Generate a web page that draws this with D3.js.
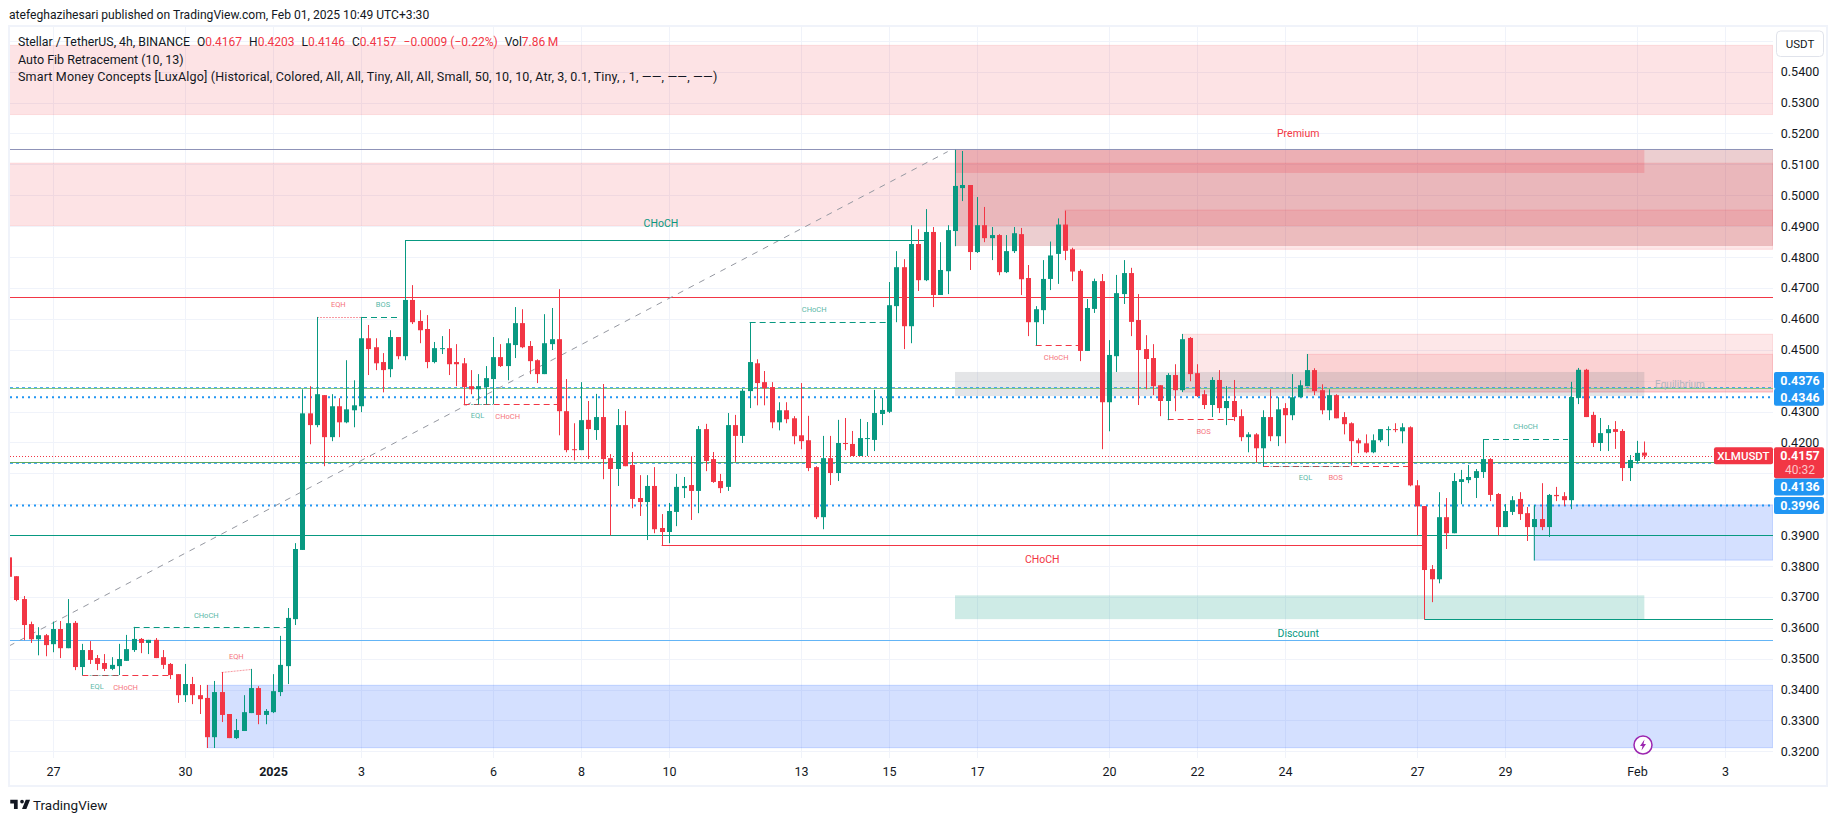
<!DOCTYPE html>
<html>
<head>
<meta charset="utf-8">
<script src="https://cdn.jsdelivr.net/npm/d3@7"></script>
<style>
  body { margin: 0; background: #fff; }
  text { font-family: Roboto, sans-serif; }
</style>
</head>
<body>
<svg id="chart" width="1835" height="821"></svg>
<script>
// 4h candles
const opens = [
  .3828,.3767,.3693,.3612,.3563,.3576,.3547,.3596,.3534,.3616,
  .3473,.3528,.3502,.3486,.3467,.3476,.3493,.3528,.3564,.3551,
  .3561,.3505,.3483,.3450,.3382,.3418,.3382,.3373,.3246,.3392,
  .3321,.3243,.3266,.3324,.3405,.3318,.3327,.3392,.3476,.3628,
  .3852,.4294,.4256,.4353,.4217,.4317,.4265,.4304,.4317,.4537,
  .4508,.4460,.4437,.4541,.4479,.4661,.4593,.4567,.4460,.4502,
  .4505,.4460,.4456,.4382,.4372,.4379,.4405,.4476,.4447,.4515,
  .4586,.4512,.4466,.4421,.4518,.4534,.4301,.4178,.4175,.4273,
  .4240,.4282,.4149,.4114,.4256,.4127,.4020,.4007,.4059,.3923,
  .3910,.3975,.4052,.4062,.4043,.4243,.4146,.4075,.4056,.4256,
  .4221,.4366,.4456,.4395,.4379,.4265,.4304,.4278,.4223,.4207,
  .4120,.3958,.4149,.4101,.4198,.4195,.4156,.4211,.4208,.4292,
  .4299,.4641,.4767,.4576,.4842,.4725,.4881,.4677,.4754,.4884,
  .5023,.5033,.4816,.4903,.4861,.4871,.4751,.4819,.4874,.4732,
  .4589,.4628,.4729,.4810,.4905,.4825,.4755,.4496,.4632,.4722,
  .4330,.4479,.4680,.4748,.4596,.4502,.4473,.4385,.4334,.4418,
  .4369,.4538,.4424,.4356,.4321,.4402,.4311,.4334,.4285,.4217,
  .4226,.4181,.4282,.4220,.4311,.4288,.4346,.4382,.4434,.4369,
  .4304,.4353,.4282,.4262,.4207,.4197,.4168,.4207,.4240,.4243,
  .4236,.4249,.4061,.3994,.3790,.3757,.3958,.3906,.4072,.4078,
  .4085,.4104,.4146,.4033,.3926,.3975,.4017,.3971,.3926,.3952,
  .3926,.4030,.4026,.4013,.4344,.4435,.4289,.4198,.4230,.4243,
  .4237,.4117,.4140,.4167];
const highs = [
  .3828,.3767,.3703,.3620,.3602,.3580,.3620,.3622,.3693,.3622,
  .3548,.3557,.3512,.3515,.3505,.3548,.3577,.3603,.3567,.3561,
  .3567,.3528,.3486,.3450,.3483,.3441,.3415,.3415,.3428,.3457,
  .3321,.3305,.3382,.3467,.3411,.3337,.3450,.3574,.3664,.3874,
  .4372,.4382,.4606,.4353,.4356,.4343,.4466,.4401,.4606,.4580,
  .4537,.4489,.4563,.4541,.4855,.4709,.4628,.4612,.4525,.4544,
  .4567,.4518,.4473,.4434,.4421,.4447,.4541,.4518,.4537,.4638,
  .4631,.4528,.4469,.4615,.4635,.4696,.4405,.4262,.4395,.4334,
  .4357,.4389,.4162,.4308,.4302,.4169,.4094,.4094,.4120,.3968,
  .4004,.4098,.4088,.4156,.4253,.4260,.4169,.4098,.4295,.4289,
  .4373,.4588,.4469,.4431,.4395,.4330,.4330,.4285,.4392,.4286,
  .4123,.4221,.4221,.4273,.4279,.4237,.4276,.4266,.4370,.4344,
  .4719,.4819,.4793,.4903,.4890,.4955,.4897,.4848,.4903,.5147,
  .5143,.5033,.4994,.4962,.4897,.4874,.4871,.4897,.4894,.4774,
  .4641,.4790,.4850,.4925,.4950,.4830,.4760,.4664,.4730,.4745,
  .4531,.4742,.4790,.4765,.4680,.4547,.4518,.4385,.4424,.4453,
  .4551,.4541,.4453,.4369,.4411,.4434,.4382,.4402,.4307,.4233,
  .4230,.4304,.4372,.4346,.4327,.4421,.4401,.4486,.4440,.4388,
  .4372,.4356,.4298,.4265,.4213,.4226,.4226,.4243,.4252,.4262,
  .4262,.4252,.4078,.3994,.3803,.4039,.4020,.4101,.4111,.4127,
  .4114,.4210,.4149,.4036,.4000,.4026,.4039,.3991,.3997,.4068,
  .4033,.4056,.4039,.4396,.4441,.4438,.4299,.4279,.4256,.4269,
  .4243,.4159,.4205,.4203];
const lows = [
  .3760,.3686,.3560,.3551,.3511,.3508,.3521,.3502,.3534,.3463,
  .3446,.3483,.3463,.3460,.3463,.3447,.3493,.3522,.3518,.3515,
  .3502,.3467,.3434,.3357,.3360,.3353,.3321,.3211,.3211,.3295,
  .3243,.3240,.3266,.3324,.3288,.3288,.3324,.3379,.3418,.3609,
  .3852,.4194,.4249,.4123,.4204,.4217,.4262,.4249,.4298,.4418,
  .4434,.4362,.4411,.4469,.4466,.4583,.4521,.4440,.4456,.4486,
  .4418,.4382,.4320,.4356,.4324,.4324,.4324,.4444,.4401,.4473,
  .4505,.4421,.4392,.4421,.4499,.4223,.4168,.4142,.4175,.4146,
  .4208,.4081,.3899,.4059,.4123,.3987,.3962,.3884,.3906,.3867,
  .3874,.3929,.4020,.3949,.3971,.4107,.4069,.4036,.4043,.4137,
  .4198,.4311,.4320,.4320,.4246,.4239,.4262,.4194,.4178,.4107,
  .3952,.3919,.4062,.4075,.4175,.4156,.4156,.4156,.4172,.4256,
  .4295,.4589,.4502,.4521,.4690,.4722,.4638,.4677,.4680,.4835,
  .4981,.4758,.4813,.4848,.4790,.4741,.4748,.4813,.4677,.4544,
  .4514,.4583,.4693,.4713,.4790,.4722,.4463,.4496,.4619,.4178,
  .4236,.4428,.4648,.4544,.4321,.4372,.4353,.4285,.4272,.4301,
  .4363,.4398,.4347,.4308,.4282,.4295,.4256,.4269,.4204,.4168,
  .4136,.4122,.4204,.4188,.4197,.4272,.4346,.4382,.4353,.4291,
  .4272,.4278,.4226,.4125,.4165,.4165,.4165,.4201,.4188,.4233,
  .4197,.4058,.3899,.3627,.3683,.3744,.3855,.3906,.4000,.4068,
  .4020,.4085,.4010,.3899,.3926,.3965,.3949,.3881,.3926,.3916,
  .3894,.4010,.3994,.3984,.4324,.4282,.4185,.4172,.4172,.4179,
  .4075,.4075,.4133,.4146];
const closes = [
  .3765,.3690,.3609,.3563,.3576,.3544,.3596,.3534,.3615,.3473,
  .3528,.3496,.3483,.3467,.3480,.3499,.3531,.3564,.3551,.3561,
  .3502,.3480,.3447,.3382,.3418,.3382,.3369,.3246,.3392,.3318,
  .3243,.3269,.3327,.3405,.3318,.3331,.3395,.3480,.3632,.3855,
  .4294,.4256,.4356,.4217,.4317,.4265,.4307,.4320,.4537,.4502,
  .4456,.4434,.4541,.4479,.4661,.4589,.4563,.4460,.4505,.4505,
  .4453,.4453,.4379,.4372,.4382,.4408,.4476,.4447,.4521,.4586,
  .4508,.4463,.4421,.4521,.4534,.4301,.4175,.4175,.4272,.4243,
  .4282,.4146,.4114,.4256,.4123,.4017,.4007,.4059,.3919,.3910,
  .3978,.4056,.4059,.4043,.4243,.4140,.4072,.4052,.4256,.4221,
  .4367,.4460,.4392,.4375,.4265,.4304,.4275,.4220,.4204,.4117,
  .3958,.4149,.4101,.4198,.4195,.4156,.4214,.4214,.4295,.4305,
  .4644,.4767,.4576,.4842,.4725,.4881,.4677,.4758,.4887,.5030,
  .5033,.4816,.4903,.4861,.4871,.4751,.4819,.4877,.4728,.4589,
  .4631,.4729,.4805,.4905,.4820,.4753,.4496,.4635,.4722,.4330,
  .4483,.4683,.4748,.4590,.4499,.4470,.4382,.4334,.4418,.4369,
  .4534,.4421,.4350,.4321,.4402,.4311,.4334,.4282,.4217,.4226,
  .4181,.4282,.4220,.4307,.4288,.4346,.4385,.4434,.4366,.4304,
  .4353,.4278,.4259,.4204,.4197,.4168,.4207,.4243,.4243,.4240,
  .4249,.4061,.3993,.3787,.3757,.3958,.3906,.4075,.4081,.4088,
  .4107,.4146,.4030,.3926,.3978,.4013,.3968,.3926,.3952,.3926,
  .4030,.4026,.4013,.4347,.4435,.4282,.4198,.4230,.4243,.4234,
  .4117,.4143,.4166,.4157];

// axes
const priceTicks = d3.range(32, 55).map(d => d / 100);
const timeBars = [6, 24, 36, 48, 66, 78, 90, 108, 120, 132, 150, 162, 174, 192, 204, 222, 234];
const timeLabels = ["27", "30", "2025", "3", "6", "8", "10", "13", "15", "17", "20", "22", "24", "27", "29", "Feb", "3"];

// zones: [first bar, last bar ("end" = right edge), top price, bottom price]
const fibZones = [[0, "end", .5485, .5261], [0, "end", .5104, .4902]];
const premiumZones = [[129, "end", .5148, .4837]];
const premiumBlocks = [[129, 223, .5148, .5072]];
const supplyZones = [[144, "end", .4952, .4825], [160, "end", .4550, .4363], [177, "end", .4485, .4363]];
const equilibriumZones = [[129, 223, .4428, .4350]];
const discountZones = [[129, 223, .3705, .3628]];
const demandZones = [[208, "end", .3997, .3819], [27, "end", .3414, .3212]];

// horizontal levels over the whole pane
const levelPrices = [.5148, .4672, .4376, .4136, .3900, .3560];
const levelColors = ["#8f93b8", "#f23645", "#81c784", "#5fa85f", "#089981", "#64b5f6"];
const thickDots = [.4346, .3996];
const thinDots = [.4376, .4136];
const thinDotShift = [-1, 1];
const lastPrice = .4157;

// structure lines: [bar from, bar to, price from, price to]
const solidTeal = [[54, 125, .4855, .4855], [193, "end", .3627, .3627], [208, 208, .3996, .3820]];
const solidRed = [[89, 193, .3867, .3867]];
const dashedTeal = [[17, 38, .3603, .3603], [48, 53, .4606, .4606], [101, 120, .4589, .4589], [201, 212.6, .4210, .4210]];
const dashedRed = [[10, 22, .3446, .3446], [62, 75, .4323, .4323], [140, 146, .4514, .4514], [158, 167, .4275, .4275], [171, 191, .4123, .4123]];
const dottedTeal = [[11, 15, .3446, .3446], [63, 66, .4323, .4323], [172, 183, .4123, .4125]];
const dottedRed = [[29, 33, .3457, .3467], [42, 48, .4606, .4606]];

// fib trend line
const fibBars = [0, 128];
const fibPrices = [.3541, .5141];

// chart labels: [text, bar, price]
const bigLabelsTeal = [["CHoCH", 88.9, .4910], ["Discount", 175.8, .3583]];
const bigLabelsRed = [["CHoCH", 140.9, .3821], ["Premium", 175.8, .5200]];
const smallLabelsTeal = [["CHoCH", 26.9, .3640], ["EQL", 12, .3409], ["BOS", 51, .4647], ["EQL", 63.9, .4286],
  ["CHoCH", 109.8, .4631], ["EQL", 176.8, .4086], ["CHoCH", 206.8, .4252]];
const smallLabelsRed = [["CHoCH", 15.9, .3407], ["EQH", 31, .3508], ["EQH", 44.9, .4647], ["CHoCH", 68, .4284],
  ["CHoCH", 142.8, .4474], ["BOS", 162.9, .4236], ["BOS", 180.9, .4086]];

// tags on the price axis
const blueTags = [.4376, .4346, .4136, .3996];
const blueTagShift = [-7.4, 0, 24.8, 0];

const legendOhlc = [["O", "0.4167"], ["H", "0.4203"], ["L", "0.4146"], ["C", "0.4157"]];

const up = "#089981", down = "#f23645", ink = "#131722";

const svg = d3.select("#chart");
const pane = {left: 10, right: 1773, top: 27, bottom: 758};

const x = d3.scaleLinear().domain([0, 234]).range([9, 1725]);
const y = d3.scaleLinear().domain([.32, .54]).range([751.4, 71.6]);
const px = v => v === "end" ? pane.right : x(v);
const snap = v => Math.round(v) + .5;

svg.append("rect")
  .attr("x", 9).attr("y", 26).attr("width", 1818).attr("height", 760)
  .attr("fill", "#fff").attr("stroke", "#f0f3fa").attr("stroke-width", 2);

svg.append("clipPath").attr("id", "pane").append("rect")
  .attr("x", pane.left).attr("y", pane.top)
  .attr("width", pane.right - pane.left).attr("height", pane.bottom - pane.top);

// grid
const grid = svg.append("g").attr("stroke", "#f0f3fa").attr("stroke-width", 1);
grid.selectAll(".h").data([.55, ...priceTicks]).join("line").attr("class", "h")
  .attr("x1", pane.left).attr("x2", pane.right)
  .attr("y1", d => snap(y(d))).attr("y2", d => snap(y(d)));
grid.selectAll(".v").data(timeBars).join("line").attr("class", "v")
  .attr("x1", d => snap(x(d))).attr("x2", d => snap(x(d)))
  .attr("y1", pane.top).attr("y2", pane.bottom);

const plot = svg.append("g").attr("clip-path", "url(#pane)");

function drawZones(zones, fill, stroke) {
  plot.append("g").selectAll("rect").data(zones).join("rect")
    .attr("x", d => px(d[0]))
    .attr("width", d => px(d[1]) - px(d[0]))
    .attr("y", d => y(d[2]))
    .attr("height", d => y(d[3]) - y(d[2]))
    .attr("fill", fill)
    .attr("stroke", stroke);
}

drawZones(fibZones, "rgba(242,54,69,0.14)", "rgba(242,54,69,0.12)");
drawZones(premiumZones, "rgba(160,10,20,0.2)", "rgba(160,10,20,0.1)");
drawZones(premiumBlocks, "rgba(242,54,69,0.2)", "none");
drawZones(supplyZones, "rgba(242,54,69,0.12)", "rgba(242,54,69,0.15)");
drawZones(equilibriumZones, "rgba(120,123,134,0.2)", "none");
drawZones(discountZones, "rgba(8,153,129,0.2)", "none");
drawZones(demandZones, "rgba(41,98,255,0.2)", "rgba(41,98,255,0.22)");

// dotted levels go under the solid ones
plot.append("g").selectAll("line").data(thinDots).join("line")
  .attr("x1", pane.left).attr("x2", pane.right)
  .attr("y1", (d, i) => snap(y(d)) + thinDotShift[i]).attr("y2", (d, i) => snap(y(d)) + thinDotShift[i])
  .attr("stroke", "#2196f3").attr("stroke-opacity", .8).attr("stroke-dasharray", "3,3");

plot.append("g").selectAll("line").data(thickDots).join("line")
  .attr("x1", pane.left).attr("x2", pane.right)
  .attr("y1", d => y(d)).attr("y2", d => y(d))
  .attr("stroke", "#2196f3").attr("stroke-width", 2).attr("stroke-dasharray", "2,4");

plot.append("g").selectAll("line").data(levelPrices).join("line")
  .attr("x1", pane.left).attr("x2", pane.right)
  .attr("y1", d => snap(y(d))).attr("y2", d => snap(y(d)))
  .attr("stroke", (d, i) => levelColors[i]);

plot.append("line")
  .attr("x1", pane.left).attr("x2", pane.right)
  .attr("y1", snap(y(lastPrice))).attr("y2", snap(y(lastPrice)))
  .attr("stroke", down).attr("stroke-dasharray", "1,2");

// fib trend line
plot.append("line")
  .attr("x1", x(fibBars[0])).attr("x2", x(fibBars[1]))
  .attr("y1", y(fibPrices[0])).attr("y2", y(fibPrices[1]))
  .attr("stroke", "#9598a1").attr("stroke-dasharray", "6,6");

function drawSegments(segments, color, dash, opacity) {
  plot.append("g").selectAll("line").data(segments).join("line")
    .attr("x1", d => px(d[0])).attr("x2", d => px(d[1]))
    .attr("y1", d => snap(y(d[2]))).attr("y2", d => snap(y(d[3])))
    .attr("stroke", color)
    .attr("stroke-dasharray", dash)
    .attr("opacity", opacity);
}

drawSegments(solidTeal, up, null, 1);
drawSegments(solidRed, down, null, 1);
drawSegments(dashedTeal, up, "6,4", 1);
drawSegments(dashedRed, down, "6,4", 1);
drawSegments(dottedTeal, up, "2,1", .5);
drawSegments(dottedRed, down, "2,1", .5);

// candles
const candles = plot.append("g").selectAll("g").data(opens).join("g")
  .attr("fill", (d, i) => closes[i] >= d ? up : down)
  .attr("stroke", "none");

candles.append("rect")
  .attr("x", (d, i) => Math.round(x(i)))
  .attr("width", 1)
  .attr("y", (d, i) => y(highs[i]))
  .attr("height", (d, i) => y(lows[i]) - y(highs[i]));

candles.append("rect")
  .attr("x", (d, i) => Math.round(x(i)) - 2)
  .attr("width", 5)
  .attr("y", (d, i) => y(Math.max(d, closes[i])))
  .attr("height", (d, i) => Math.max(1, Math.abs(y(d) - y(closes[i]))));

// labels on the chart
function drawLabels(labels, color, size, opacity) {
  svg.append("g").selectAll("text").data(labels).join("text")
    .attr("x", d => x(d[1]))
    .attr("y", d => y(d[2]))
    .attr("text-anchor", "middle")
    .attr("dominant-baseline", "central")
    .attr("font-size", size)
    .attr("fill", color)
    .attr("opacity", opacity)
    .text(d => d[0]);
}

drawLabels(bigLabelsTeal, up, 10.5, 1);
drawLabels(bigLabelsRed, down, 10.5, 1);
drawLabels(smallLabelsTeal, up, 7.5, .7);
drawLabels(smallLabelsRed, down, 7.5, .7);

svg.append("text")
  .attr("x", 1680).attr("y", 384)
  .attr("text-anchor", "middle").attr("dominant-baseline", "central")
  .attr("font-size", 10).attr("fill", "#b2b5be")
  .text("Equilibrium");

// price axis
const priceAxis = svg.append("g")
  .attr("transform", `translate(${pane.right}, 0)`)
  .call(d3.axisRight(y).tickValues(priceTicks).tickFormat(d3.format(".4f")).tickSize(0));
priceAxis.select(".domain").remove();
priceAxis.selectAll("text")
  .attr("x", 27).attr("text-anchor", "middle")
  .attr("font-size", 12.5).attr("fill", ink)
  .style("font-family", "Roboto, sans-serif");

// time axis
const timeAxis = svg.append("g")
  .attr("transform", `translate(0, ${pane.bottom})`)
  .call(d3.axisBottom(x).tickValues(timeBars).tickFormat((d, i) => timeLabels[i]).tickSize(0));
timeAxis.select(".domain").remove();
timeAxis.selectAll("text")
  .attr("y", 9)
  .attr("font-size", 12.5).attr("fill", ink)
  .attr("font-weight", d => d === 36 ? 700 : 400)
  .style("font-family", "Roboto, sans-serif");

// USDT button
svg.append("rect")
  .attr("x", 1776.5).attr("y", 31).attr("width", 47).attr("height", 25.5).attr("rx", 4)
  .attr("fill", "#fff").attr("stroke", "#e0e3eb");
svg.append("text")
  .attr("x", 1800).attr("y", 44)
  .attr("text-anchor", "middle").attr("dominant-baseline", "central")
  .attr("font-size", 11.5).attr("fill", ink)
  .text("USDT");

// tags
const tagBoxes = svg.append("g");
tagBoxes.selectAll("g").data(blueTags).join("g").each(function(d, i) {
  const g = d3.select(this);
  const cy = y(d) + blueTagShift[i];
  g.append("rect")
    .attr("x", 1774).attr("y", cy - 8.5).attr("width", 50).attr("height", 17).attr("rx", 2)
    .attr("fill", "#2196f3");
  g.append("text")
    .attr("x", 1800).attr("y", cy)
    .attr("text-anchor", "middle").attr("dominant-baseline", "central")
    .attr("font-size", 12.5).attr("font-weight", 700).attr("fill", "#fff")
    .text(d3.format(".4f")(d));
});

const lastY = y(lastPrice);
svg.append("rect")
  .attr("x", 1774).attr("y", lastY - 8.5).attr("width", 50).attr("height", 31).attr("rx", 2)
  .attr("fill", down);
svg.append("text")
  .attr("x", 1800).attr("y", lastY)
  .attr("text-anchor", "middle").attr("dominant-baseline", "central")
  .attr("font-size", 12.5).attr("font-weight", 700).attr("fill", "#fff")
  .text(d3.format(".4f")(lastPrice));
svg.append("text")
  .attr("x", 1800).attr("y", lastY + 14)
  .attr("text-anchor", "middle").attr("dominant-baseline", "central")
  .attr("font-size", 12).attr("fill", "#fbc4c8")
  .text("40:32");
svg.append("rect")
  .attr("x", 1714).attr("y", lastY - 8.5).attr("width", 59).attr("height", 17).attr("rx", 2)
  .attr("fill", down);
svg.append("text")
  .attr("x", 1743.5).attr("y", lastY)
  .attr("text-anchor", "middle").attr("dominant-baseline", "central")
  .attr("font-size", 11.5).attr("font-weight", 500).attr("fill", "#fff")
  .text("XLMUSDT");

// header and legend
svg.append("text")
  .attr("x", 9).attr("y", 15)
  .attr("dominant-baseline", "central")
  .attr("font-size", 12.1).attr("fill", ink)
  .text("atefeghazihesari published on TradingView.com, Feb 01, 2025 10:49 UTC+3:30");

const legend = svg.append("text")
  .attr("x", 18).attr("y", 42)
  .attr("dominant-baseline", "central")
  .attr("font-size", 12).attr("fill", ink);
legend.append("tspan").attr("font-size", 12.3).text("Stellar / TetherUS, 4h, BINANCE");
legendOhlc.forEach(([k, v]) => {
  legend.append("tspan").attr("dx", 7).text(k);
  legend.append("tspan").attr("fill", down).text(v);
});
legend.append("tspan").attr("dx", 7).attr("fill", down).text("\u22120.0009 (\u22120.22%)");
legend.append("tspan").attr("dx", 7).text("Vol");
legend.append("tspan").attr("fill", down).text("7.86\u2009M");

svg.append("text")
  .attr("x", 18).attr("y", 59)
  .attr("dominant-baseline", "central")
  .attr("font-size", 12.5).attr("fill", ink)
  .text("Auto Fib Retracement (10, 13)");

svg.append("text")
  .attr("x", 18).attr("y", 76)
  .attr("dominant-baseline", "central")
  .attr("font-size", 12.5).attr("letter-spacing", .15).attr("fill", ink)
  .text("Smart Money Concepts [LuxAlgo] (Historical, Colored, All, All, Tiny, All, All, Small, 50, 10, 10, Atr, 3, 0.1, Tiny, , 1, \u2014\u2014, \u2014\u2014, \u2014\u2014)");

// lightning badge
const badge = svg.append("g").attr("transform", "translate(1643, 745)");
badge.append("circle").attr("r", 9).attr("fill", "#fff").attr("stroke", "#9c27b0").attr("stroke-width", 1.5);
badge.append("path").attr("d", "M1.5,-5.5 L-3,1 H-0.5 L-1.5,5.5 L3,-1 H0.5 Z").attr("fill", "#9c27b0");

// TradingView mark
const logo = svg.append("g").attr("transform", "translate(9, 796) scale(0.62)");
logo.append("path")
  .attr("d", "M14 6H2v6h6v9h6V6zm14 15h-7l6-15h7l-6 15zm-7-9a3 3 0 1 0 0-6 3 3 0 0 0 0 6z")
  .attr("fill", ink);
svg.append("text")
  .attr("x", 33).attr("y", 805)
  .attr("dominant-baseline", "central")
  .attr("font-size", 13.5).attr("fill", ink)
  .text("TradingView");
</script>
</body>
</html>
